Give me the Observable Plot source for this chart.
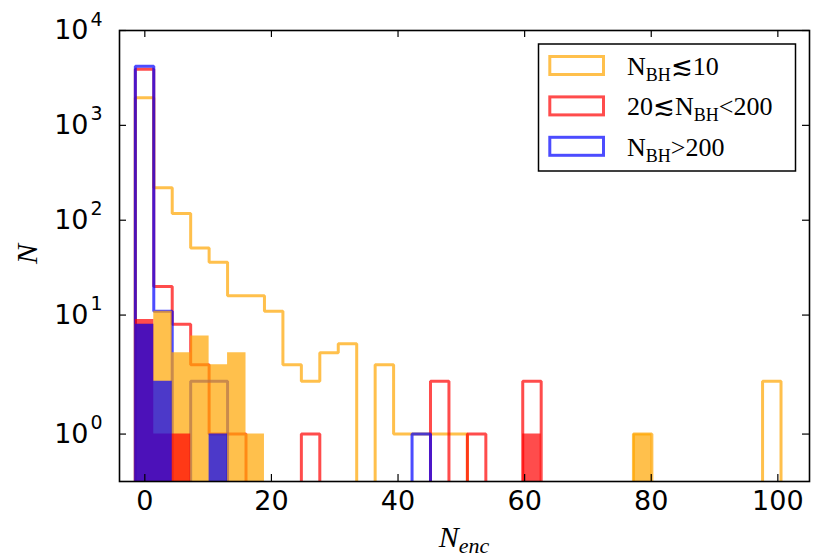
<!DOCTYPE html>
<html>
<head>
<meta charset="utf-8">
<script src="https://cdn.jsdelivr.net/npm/d3@7"></script>
<script src="https://cdn.jsdelivr.net/npm/@observablehq/plot@0.6"></script>
<style>
  html, body { margin: 0; padding: 0; background: #ffffff; }
  #chart { width: 831px; height: 560px; }
</style>
</head>
<body>
<div id="chart"></div>
<script>
// ---------------- data ----------------
const binStart = -1.5;
const binEnd = 100.5;
const binCount = 35;

const xTicks = [0, 20, 40, 60, 80, 100];
const yTicks = [1, 10, 100, 1000, 10000];
const yTickBase = ["10", "10", "10", "10", "10"];
const yTickExp = ["0", "1", "2", "3", "4"];

const seriesKeys = ["low", "mid", "high"];
const seriesColors = ["#FFA500", "#FF0000", "#0000FF"];

// step (outline) histograms, counts per bin
const stepLow  = [1950, 220, 118, 51, 36, 16, 16, 11, 3, 2,  4, 5, 0, 3, 1, 1, 1, 1, 0, 0,  0, 0, 0, 0, 0, 0, 0, 1, 0, 0,  0, 0, 0, 0, 2];
const stepMid  = [3900, 20, 8, 3, 1, 1, 0, 0, 0, 1,  0, 0, 0, 0, 0, 0, 2, 0, 1, 0,  0, 2, 0, 0, 0, 0, 0, 0, 0, 0,  0, 0, 0, 0, 0];
const stepHigh = [4200, 11, 0, 2, 2, 0, 0, 0, 0, 0,  0, 0, 0, 0, 0, 1, 0, 0, 0, 0,  0, 0, 0, 0, 0, 0, 0, 0, 0, 0,  0, 0, 0, 0, 0];

// filled histograms, counts per bin
const fillLow  = [8, 11, 4, 6, 3, 4, 1, 0, 0, 0,  0, 0, 0, 0, 0, 0, 0, 0, 0, 0,  0, 0, 0, 0, 0, 0, 0, 1, 0, 0,  0, 0, 0, 0, 0];
const fillMid  = [9, 1, 1, 0, 0, 0, 0, 0, 0, 0,  0, 0, 0, 0, 0, 0, 0, 0, 0, 0,  0, 1, 0, 0, 0, 0, 0, 0, 0, 0,  0, 0, 0, 0, 0];
const fillHigh = [8, 2, 0, 0, 1, 0, 0, 0, 0, 0,  0, 0, 0, 0, 0, 0, 0, 0, 0, 0,  0, 0, 0, 0, 0, 0, 0, 0, 0, 0,  0, 0, 0, 0, 0];

// ---------------- helpers ----------------
const edges = d3.range(binCount + 1).map(i => binStart + i * (binEnd - binStart) / binCount);

// matplotlib-style symlog (linthresh 2, linscale 1, base 10)
const linthresh = 2;
const linAdj = 1 / (1 - 1 / 10);
function symlog(v) {
  return v <= linthresh ? v * linAdj : linthresh * (linAdj + Math.log10(v / linthresh));
}

function stepPoints(counts) {
  const pts = [{x: edges[0], y: 0}];
  counts.forEach((c, i) => pts.push({x: edges[i], y: c}));
  pts.push({x: edges[binCount], y: counts[binCount - 1]});
  pts.push({x: edges[binCount], y: 0});
  return pts;
}

const stepSets = [stepLow, stepMid, stepHigh];
const fillSets = [fillLow, fillMid, fillHigh];

const W = 831, H = 560;
const mL = 119, mR = 22, mT = 30, mB = 79;
const frameW = W - mL - mR, frameH = H - mT - mB;

const marks = [];
stepSets.forEach((counts, k) => {
  marks.push(Plot.line(stepPoints(counts), {
    x: "x", y: "y", curve: "step-after", clip: true,
    stroke: seriesColors[k], strokeOpacity: 0.7, strokeWidth: 3,
    strokeLinejoin: "miter", strokeLinecap: "butt"
  }));
});
fillSets.forEach((counts, k) => {
  marks.push(Plot.area(stepPoints(counts), {
    x1: "x", y1: () => 0, y2: "y", curve: "step-after", clip: true,
    fill: seriesColors[k], fillOpacity: 0.7
  }));
});
marks.push(Plot.frame({stroke: "black", strokeWidth: 1.6}));
// inward ticks on all four sides
marks.push(Plot.tickX(xTicks, {x: d => d, insetTop: frameH - 7, stroke: "black", strokeWidth: 1.2}));
marks.push(Plot.tickX(xTicks, {x: d => d, insetBottom: frameH - 7, stroke: "black", strokeWidth: 1.2}));
marks.push(Plot.tickY(yTicks, {y: d => d, insetRight: frameW - 7, stroke: "black", strokeWidth: 1.2}));
marks.push(Plot.tickY(yTicks, {y: d => d, insetLeft: frameW - 7, stroke: "black", strokeWidth: 1.2}));
// tick labels
marks.push(Plot.text(xTicks, {
  x: d => d, frameAnchor: "bottom", dy: 9, lineAnchor: "top",
  text: d => String(d), fontSize: 27, fontFamily: "DejaVu Sans", fill: "black"
}));
marks.push(Plot.text(yTicks, {
  y: d => d, frameAnchor: "left", dx: -31, textAnchor: "end", lineAnchor: "middle",
  text: (d, i) => yTickBase[i], fontSize: 27, fontFamily: "DejaVu Sans", fill: "black"
}));
marks.push(Plot.text(yTicks, {
  y: d => d, frameAnchor: "left", dx: -29, dy: -11, textAnchor: "start", lineAnchor: "middle",
  text: (d, i) => yTickExp[i], fontSize: 19, fontFamily: "DejaVu Sans", fill: "black"
}));

const svg = Plot.plot({
  width: W, height: H,
  marginLeft: mL, marginRight: mR, marginTop: mT, marginBottom: mB,
  x: {domain: [-4, 105], axis: null},
  y: {type: "linear", transform: symlog, domain: [symlog(0.1), symlog(10000)], axis: null},
  style: {background: "#ffffff", fontFamily: "DejaVu Sans", color: "black", overflow: "visible"},
  marks
});

// ----- axis titles and legend (decorations) -----
const s = d3.select(svg);
const serif = "'Liberation Serif', 'DejaVu Serif', serif";

const xl = s.append("text")
  .attr("x", 464).attr("y", 546.5)
  .attr("text-anchor", "middle")
  .attr("font-family", serif).attr("font-style", "italic").attr("font-size", 30).attr("fill", "black");
xl.append("tspan").text("N");
xl.append("tspan").attr("font-size", 22).attr("dy", 6.5).text("enc");

s.append("text")
  .attr("transform", "translate(37,254) rotate(-90)")
  .attr("text-anchor", "middle")
  .attr("font-family", serif).attr("font-style", "italic").attr("font-size", 30).attr("fill", "black")
  .text("N");

const lg = s.append("g");
lg.append("rect").attr("x", 538.5).attr("y", 44).attr("width", 257).attr("height", 127)
  .attr("fill", "white").attr("stroke", "black").attr("stroke-width", 1.5);

const legendParts = [
  [["N", false], ["BH", true], ["≲10", false]],
  [["20≲N", false], ["BH", true], ["<200", false]],
  [["N", false], ["BH", true], [">200", false]]
];
legendParts.forEach((parts, i) => {
  const cy = 65.5 + i * 40.4;
  lg.append("rect").attr("x", 549.8).attr("y", cy - 9).attr("width", 53.7).attr("height", 18)
    .attr("fill", "none").attr("stroke", seriesColors[i]).attr("stroke-opacity", 0.7).attr("stroke-width", 3);
  const t = lg.append("text").attr("x", 627).attr("y", cy + 9.5)
    .attr("text-anchor", "start")
    .attr("font-family", serif).attr("font-size", 26).attr("fill", "black");
  let down = false;
  parts.forEach(([txt, sub]) => {
    const ts = t.append("tspan").text(txt);
    if (sub && !down) { ts.attr("font-size", 18).attr("dy", 6); down = true; }
    else if (!sub && down) { ts.attr("dy", -6); down = false; }
  });
});

document.getElementById("chart").appendChild(svg);
</script>
</body>
</html>
